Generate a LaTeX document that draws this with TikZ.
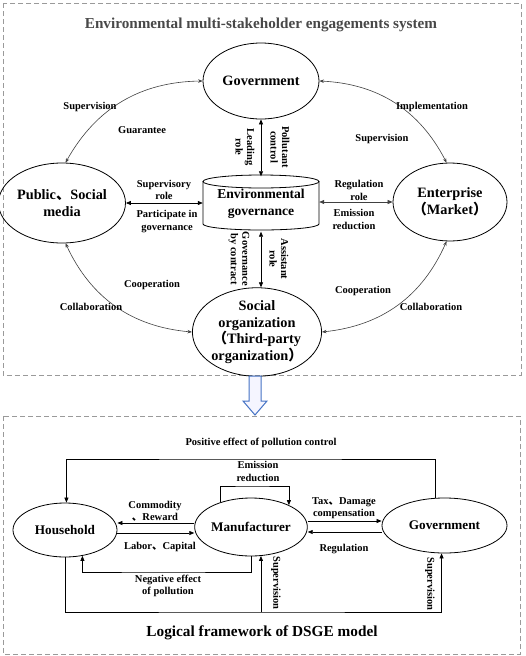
\documentclass[tikz,border=0pt]{standalone}
\usepackage{fontspec}
\setmainfont{Liberation Serif}
\newfontfamily\cjk{Noto Sans CJK SC}
\usetikzlibrary{arrows.meta,shapes.geometric,calc}
\definecolor{framegray}{HTML}{9A9A9A}
\definecolor{titlegray}{HTML}{484848}
\definecolor{linegray}{HTML}{404040}
\definecolor{arrowblue}{HTML}{4472C4}
\tikzset{
  frame/.style={draw=framegray,line width=0.8pt,dash pattern=on 5pt off 3pt},
  ell/.style={ellipse,draw,line width=0.8pt,inner sep=0pt,align=center,
    font=\bfseries\fontsize{14.3}{16.5}\selectfont},
  bell/.style={ellipse,draw,line width=0.8pt,inner sep=0pt,align=center,
    font=\bfseries\fontsize{13.2}{15}\selectfont},
  lab/.style={inner sep=0pt,align=center,font=\bfseries\fontsize{10.5}{12.5}\selectfont},
  vlab/.style={lab,rotate=-90,font=\bfseries\fontsize{10.5}{11.5}\selectfont},
  curv/.style={draw=linegray,line width=0.6pt,{Stealth[length=4.5pt,width=3.5pt]}-{Stealth[length=4.5pt,width=3.5pt]}},
  dbl/.style={line width=0.7pt,{Triangle[length=5pt,width=4pt]}-{Triangle[length=5pt,width=4pt]}},
  blk/.style={line width=0.7pt,-{Triangle[length=5pt,width=4pt]}}
}
\begin{document}
\begin{tikzpicture}[x=1pt,y=-1pt]
\useasboundingbox (0,0) rectangle (525,656);
% frames
\draw[frame] (3,3) rectangle (521,375);
\draw[frame] (3,416) rectangle (520,654);
% title
\node[font=\bfseries\fontsize{15.2}{17}\selectfont,text=titlegray] (title) at (261,25) {Environmental multi-stakeholder engagements system};
% top nodes
\node[ell,minimum width=116pt,minimum height=76pt] (gov) at (261,81) {Government};
\node[ell,minimum width=118pt,minimum height=80pt] (pub) at (62,203) {Public{\cjk 、}Social\\media};
\node[ell,minimum width=114pt,minimum height=78pt] (ent) at (450,202) {Enterprise\\{\cjk （}Market{\cjk ）}};
\node[ell,minimum width=108pt,minimum height=80pt] (soc) at (257,332) {Social\\organization\\{\cjk （}Third-party\\organization{\cjk ）}};
% cylinder
\node[inner sep=0pt,minimum width=116pt,minimum height=55pt,align=center,
  font=\bfseries\fontsize{13.6}{16.5}\selectfont] (env) at (261,204) {Environmental\\governance};
\draw[line width=0.8pt] (261,181.5) ellipse [x radius=58pt,y radius=6.5pt];
\draw[line width=0.8pt] (203,181.5) -- (203,224) arc[start angle=180,end angle=360,x radius=58pt,y radius=6pt] -- (319,181.5);
% curved connectors
\draw[curv] (gov.west) to[bend right=30] (pub.85);
\draw[curv] (gov.east) to[bend left=30] (ent.95);
\draw[curv] (pub.-85) to[bend right=30] (soc.west);
\draw[curv] (ent.-95) to[bend left=30] (soc.east);
% straight connectors
\draw[dbl] (gov.south) -- (env.north);
\draw[dbl] (env.south) -- (env.south |- soc.north);
\draw[dbl] (pub.east) -- (pub.east -| env.west);
\draw[dbl,draw=linegray] (ent.west -| env.east) -- (ent.west);
% labels top
\node[lab] (l1) at (90,107) {Supervision};
\node[lab] (l2) at (142,130) {Guarantee};
\node[lab] (l3) at (432,107) {Implementation};
\node[lab] (l4) at (382,139) {Supervision};
\node[lab] (l5) at (152,285) {Cooperation};
\node[lab] (l6) at (91,307) {Collaboration};
\node[lab] (l7) at (363,291) {Cooperation};
\node[lab] (l8) at (431,307) {Collaboration};
\node[lab] (l9) at (164,190) {Supervisory\\role};
\node[lab] (l10) at (167,221.5) {Participate in\\governance};
\node[lab] (l11) at (359,190.5) {Regulation\\role};
\node[lab] (l12) at (354,219.5) {Emission\\reduction};
\node[vlab] (l13) at (245,147) {Leading\\role};
\node[vlab] (l14) at (280,147) {Pollutant\\control};
\node[vlab] (l15) at (239,259) {Governance\\by contract};
\node[vlab] (l16) at (279,259) {Assistant\\role};
% transition arrow
\draw[draw=arrowblue,fill=blue!4,line width=1pt,line join=miter] (249,376) -- (261,376) -- (261,401) -- (267,401) -- (255,415) -- (243,401) -- (249,401) -- cycle;
% bottom part
\node[lab] (pe) at (261,443) {Positive effect of pollution control};
\node[bell,minimum width=104pt,minimum height=54pt] (hh) at (65,530) {Household};
\node[bell,minimum width=98pt,minimum height=58pt] (man) at (251,527) {Manufacturer};
\node[bell,minimum width=125pt,minimum height=55pt] (bgov) at (444.5,525.5) {Government};
\coordinate (pos) at (250,459);
\coordinate (ertop) at (250,486);
\coordinate (neg) at (160,572);
\coordinate (sv) at (250,612);
\draw[blk] (bgov.109) |- (pos) -| (hh.87);
\draw[blk] (man.141) |- (ertop) -| (man.30);
\draw[blk] ([yshift=4pt]man.west) -- ([yshift=4pt]man.west -| hh.east);
\draw[blk] ([yshift=-3pt]hh.east) -- ([yshift=-3pt]hh.east -| man.west);
\draw[blk] ([yshift=6pt]man.east) -- ([yshift=6pt]man.east -| bgov.west);
\draw[blk] ([yshift=-6.5pt]bgov.west) -- ([yshift=-6.5pt]bgov.west -| man.east);
\draw[blk] (man.south) |- (neg) -| (hh.-56);
\draw[blk] (hh.south) |- (sv) -| (bgov.-96);
\draw[blk] (man.-71 |- sv) -- (man.-71);
\node[lab] (er) at (258,471.5) {Emission\\reduction};
\node[lab] (cr) at (155,511) {Commodity\\{\cjk 、}Reward};
\node[lab] (lc) at (160,547) {Labor{\cjk 、}Capital};
\node[lab] (td) at (344,508) {Tax{\cjk 、}Damage\\compensation};
\node[lab] (rg) at (344,549) {Regulation};
\node[lab] (ne) at (168,586) {Negative effect\\of pollution};
\node[vlab] (s1) at (276,583) {Supervision};
\node[vlab] (s2) at (430,584) {Supervision};
\node[font=\bfseries\fontsize{15.3}{17}\selectfont] (lf) at (262,633) {Logical framework of DSGE model};
\end{tikzpicture}
\end{document}
